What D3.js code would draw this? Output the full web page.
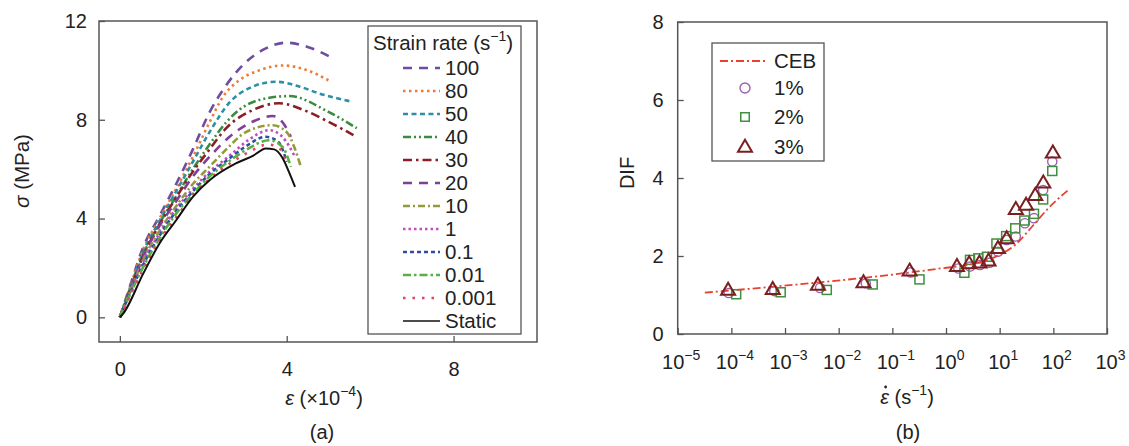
<!DOCTYPE html>
<html>
<head>
<meta charset="utf-8">
<script src="https://cdn.jsdelivr.net/npm/d3@7"></script>
<style>
	body{margin:0;background:#fff}
	svg text{font-family:"Liberation Sans",Arial,sans-serif;fill:#222}
</style>
</head>
<body>
<svg id="chart" width="1129" height="446"></svg>
<script>

// panel (a): stress-strain curves, [strain x1e-4, stress MPa]
const rateLabels = ['100','80','50','40','30','20','10','1','0.1','0.01','0.001','Static']
const sigma100 = [[0,0],[0.25,1.3],[0.55,2.8],[0.95,4.1],[1.35,5.4],[1.75,6.8],[2.15,8.3],[2.55,9.4],[3.0,10.3],[3.45,10.85],[4.0,11.12],[4.5,10.95],[5.1,10.5]]
const sigma80 = [[0,0],[0.25,1.25],[0.55,2.7],[0.95,4.0],[1.35,5.2],[1.75,6.5],[2.15,7.9],[2.46,8.9],[2.86,9.6],[3.34,10.0],[3.9,10.2],[4.5,10.0],[5.0,9.6]]
const sigma50 = [[0,0],[0.25,1.2],[0.55,2.6],[0.95,3.9],[1.35,5.1],[1.75,6.3],[2.15,7.5],[2.63,8.7],[3.1,9.28],[3.74,9.54],[4.3,9.35],[4.77,9.07],[5.57,8.73]]
const sigma40 = [[0,0],[0.25,1.15],[0.55,2.5],[0.95,3.8],[1.35,4.9],[1.75,6.0],[2.15,7.0],[2.55,7.9],[2.86,8.4],[3.34,8.8],[4.06,8.96],[5.0,8.32],[5.68,7.66]]
const sigma30 = [[0,0],[0.25,1.1],[0.55,2.45],[0.95,3.75],[1.35,4.85],[1.75,5.9],[2.15,6.8],[2.55,7.66],[3.18,8.39],[3.82,8.67],[4.4,8.4],[5.0,7.92],[5.6,7.38]]
const sigma20 = [[0,0],[0.25,1.1],[0.55,2.4],[0.95,3.7],[1.35,4.7],[1.75,5.7],[2.15,6.5],[2.63,7.31],[3.18,7.92],[3.66,8.15],[3.9,7.9],[4.1,7.31]]
const sigma10 = [[0,0],[0.25,1.05],[0.55,2.3],[0.95,3.5],[1.35,4.5],[1.75,5.4],[2.15,6.1],[2.55,6.8],[3.02,7.5],[3.66,7.78],[4.0,7.5],[4.18,6.9],[4.34,6.09]]
const sigma1 = [[0,0],[0.25,1.0],[0.55,2.2],[0.95,3.4],[1.35,4.4],[1.75,5.2],[2.15,5.9],[2.6,6.5],[3.1,7.2],[3.58,7.58],[3.9,7.3],[4.2,6.5]]
const sigma0_1 = [[0,0],[0.25,1.0],[0.55,2.1],[0.95,3.3],[1.35,4.3],[1.75,5.1],[2.15,5.8],[2.6,6.4],[3.0,6.9],[3.5,7.31],[3.8,7.1],[4.0,6.3]]
const sigma0_01 = [[0,0],[0.25,0.95],[0.55,2.0],[0.95,3.2],[1.35,4.2],[1.75,5.0],[2.15,5.7],[2.6,6.3],[3.0,6.75],[3.58,7.17],[3.9,6.9],[4.1,6.09]]
const sigma0_001 = [[0,0],[0.25,0.9],[0.55,1.9],[0.95,3.1],[1.35,4.05],[1.75,4.95],[2.15,5.6],[2.7,6.3],[3.1,6.7],[3.55,7.0],[3.85,6.8],[4.0,6.2]]
const sigmaStatic = [[0,0],[0.08,0.15],[0.56,1.77],[0.95,2.99],[1.35,3.93],[1.75,4.88],[2.15,5.55],[2.78,6.23],[3.2,6.55],[3.5,6.84],[3.7,6.8],[3.9,6.45],[4.05,5.9],[4.2,5.28]]
const rateCurves = [sigma100,sigma80,sigma50,sigma40,sigma30,sigma20,sigma10,sigma1,sigma0_1,sigma0_01,sigma0_001,sigmaStatic]
const strainTicks = [0,4,8]
const stressTicks = [0,4,8,12]

// panel (b): DIF vs strain rate, [rate s^-1, DIF]
const cebLine = [[3.2e-5,1.06],[0.78,1.68],[3.2,1.8],[10,2.03],[20,2.3],[40,2.75],[80,3.22],[200,3.72]]
const dif1 = [[8.9e-5,1.05],[6.3e-4,1.1],[4.5e-3,1.18],[0.032,1.3],[0.22,1.58],[1.7,1.68],[2.8,1.73],[4.3,1.77],[6.5,1.83],[9.3,2.11],[13.5,2.41],[20,2.5],[29.5,2.84],[43.6,2.97],[64.6,3.69],[95.5,4.42]]
const dif2 = [[1.23e-4,1.02],[8.3e-4,1.07],[6.0e-3,1.13],[0.043,1.27],[0.32,1.4],[2.2,1.57],[2.8,1.9],[4.0,1.94],[5.8,1.98],[8.7,2.32],[13.2,2.51],[19.5,2.71],[28.8,2.91],[43.6,3.08],[64.6,3.45],[95.5,4.18]]
const dif3 = [[8.7e-5,1.13],[5.9e-4,1.15],[4.1e-3,1.26],[0.029,1.32],[0.21,1.62],[1.6,1.74],[2.7,1.81],[4.2,1.83],[6.2,1.88],[9.3,2.2],[13.5,2.45],[20,3.2],[31,3.31],[46,3.56],[65,3.88],[98,4.65]]
const rateTicks = [-5,-4,-3,-2,-1,0,1,2,3]
const difTicks = [0,2,4,6,8]
const difLegend = ['CEB','1%','2%','3%']

const rateColours = ['#6e4ca0','#f07b35','#2e8ea8','#3a8a41','#8c1d24','#7e3f97','#949a3c','#c04fc4','#2c4fa4','#56b046','#e4405f','#111']
const rateDashes = ['9,7','2.5,3.5','5,3.5','8,3,2,3,2,3','9,4,2.5,4','9,7','7,3,2,3','2.5,3','4,3','8,3,2.5,3','2.5,7','none']

const svg = d3.select('#chart')

function frame(x0,y0,x1,y1){
	svg.append('rect')
		.attr('x',x0).attr('y',y0)
		.attr('width',x1-x0).attr('height',y1-y0)
		.attr('fill','none').attr('stroke','#555').attr('stroke-width',1.5)
}

function styleAxis(g){
	g.select('.domain').remove()
	g.selectAll('.tick line').attr('stroke','#555').attr('stroke-width',1.3)
	g.selectAll('.tick text').attr('font-size',20).attr('fill','#222')
		.attr('font-family','"Liberation Sans",Arial,sans-serif')
}

function sup(text,base,exp,back){
	text.append('tspan').text(base)
	text.append('tspan').attr('font-size',14).attr('dy',-9).text(exp)
	if(back){
		text.append('tspan').attr('dy',9).text(back)
	}
}

function drawPanelA(){
	let x = d3.scaleLinear().domain([-0.5,10]).range([99,537])
	let y = d3.scaleLinear().domain([-1,12]).range([342,21])

	let line = d3.line()
		.x(function(d){return x(d[0])})
		.y(function(d){return y(d[1])})
		.curve(d3.curveMonotoneX)

	rateCurves.forEach(function(c,i){
		svg.append('path')
			.attr('d',line(c))
			.attr('fill','none')
			.attr('stroke',rateColours[i])
			.attr('stroke-width',i==11?2:2.6)
			.attr('stroke-dasharray',rateDashes[i])
	})

	frame(99,21,537,342)

	svg.append('g').attr('transform','translate(99,0)')
		.call(d3.axisLeft(y).tickValues(stressTicks).tickSize(-6).tickPadding(12))
		.call(styleAxis)
	svg.append('g').attr('transform','translate(0,342)')
		.call(d3.axisBottom(x).tickValues(strainTicks).tickSize(-6).tickPadding(20))
		.call(styleAxis)

	// legend
	svg.append('rect').attr('x',368).attr('y',26).attr('width',153).attr('height',308)
		.attr('fill','#fff').attr('stroke','#555').attr('stroke-width',1.3)
	let title = svg.append('text').attr('x',373).attr('y',50).attr('font-size',20.5)
	sup(title,'Strain rate (s','\u22121',')')

	rateLabels.forEach(function(label,i){
		let ly = 68+i*23
		svg.append('line')
			.attr('x1',403).attr('x2',440).attr('y1',ly).attr('y2',ly)
			.attr('stroke',rateColours[i])
			.attr('stroke-width',i==11?1.5:2.6)
			.attr('stroke-dasharray',rateDashes[i])
		svg.append('text').attr('x',445).attr('y',ly+7).attr('font-size',20.5).text(label)
	})

	let ylab = svg.append('text').attr('font-size',20.5)
		.attr('text-anchor','middle')
		.attr('transform','translate(29,171) rotate(-90)')
	ylab.append('tspan').attr('font-style','italic').text('\u03c3')
	ylab.append('tspan').text(' (MPa)')

	let xlab = svg.append('text').attr('font-size',20).attr('text-anchor','middle')
		.attr('x',324).attr('y',405)
	xlab.append('tspan').attr('font-style','italic').text('\u03b5')
	sup(xlab,' (\u00d710','\u22124',')')

	svg.append('text').attr('x',322).attr('y',439).attr('font-size',20)
		.attr('text-anchor','middle').text('(a)')
}

function marker(g,type,cx,cy,big){
	if(type=='circle'){
		g.append('circle').attr('cx',cx).attr('cy',cy).attr('r',big?5:4.6)
			.attr('fill','none').attr('stroke','#9b5fb5').attr('stroke-width',1.4)
	} else if(type=='square'){
		let s = big?8.5:9
		g.append('rect').attr('x',cx-s/2).attr('y',cy-s/2).attr('width',s).attr('height',s)
			.attr('fill','none').attr('stroke','#3f8f3f').attr('stroke-width',1.5)
	} else {
		let w = 14, h = 12
		g.append('path')
			.attr('d','M'+cx+','+(cy-h*0.6)+'L'+(cx+w/2)+','+(cy+h*0.4)+'L'+(cx-w/2)+','+(cy+h*0.4)+'Z')
			.attr('fill','none').attr('stroke','#7a1f1f').attr('stroke-width',2)
	}
}

function drawPanelB(){
	let x = d3.scaleLog().domain([1e-5,1e3]).range([677.7,1107])
	let y = d3.scaleLinear().domain([0,8]).range([334,22])

	let line = d3.line()
		.x(function(d){return x(d[0])})
		.y(function(d){return y(d[1])})
		.curve(d3.curveMonotoneX)

	let pts = svg.append('g')
	dif1.forEach(function(d){marker(pts,'circle',x(d[0]),y(d[1]))})
	dif2.forEach(function(d){marker(pts,'square',x(d[0]),y(d[1]))})

	svg.append('path').attr('d',line(cebLine))
		.attr('fill','none').attr('stroke','#e8412f').attr('stroke-width',1.8)
		.attr('stroke-dasharray','8,3,2,3')

	let tri = svg.append('g')
	dif3.forEach(function(d){marker(tri,'triangle',x(d[0]),y(d[1]))})

	frame(677.7,22,1107,334)

	svg.append('g').attr('transform','translate(677.7,0)')
		.call(d3.axisLeft(y).tickValues(difTicks).tickSize(-6).tickPadding(14))
		.call(styleAxis)

	let xAxis = svg.append('g').attr('transform','translate(0,334)')
		.call(d3.axisBottom(x).tickValues(rateTicks.map(function(p){return Math.pow(10,p)})).tickSize(-6).tickFormat(''))
		.call(styleAxis)
	xAxis.selectAll('.tick').each(function(d,i){
		let t = d3.select(this).append('text').attr('y',35).attr('x',3)
			.attr('text-anchor','middle').attr('font-size',20).attr('fill','#222')
		sup(t,'10',rateTicks[i]<0?'\u2212'+(-rateTicks[i]):''+rateTicks[i])
	})

	// legend
	svg.append('rect').attr('x',712).attr('y',43).attr('width',112).attr('height',118)
		.attr('fill','#fff').attr('stroke','#555').attr('stroke-width',1.3)
	let ly = [61,88,117,147]
	svg.append('line').attr('x1',720).attr('x2',768).attr('y1',ly[0]).attr('y2',ly[0])
		.attr('stroke','#e8412f').attr('stroke-width',1.8).attr('stroke-dasharray','8,3,2,3')
	marker(svg,'circle',745,ly[1],true)
	marker(svg,'square',745,ly[2],true)
	marker(svg,'triangle',745,ly[3],true)
	difLegend.forEach(function(label,i){
		svg.append('text').attr('x',774).attr('y',ly[i]+7).attr('font-size',20.5).text(label)
	})

	svg.append('text').attr('font-size',20).attr('text-anchor','middle')
		.attr('transform','translate(634,173) rotate(-90)').text('DIF')

	let xlab = svg.append('text').attr('font-size',20).attr('text-anchor','middle')
		.attr('x',907).attr('y',404)
	xlab.append('tspan').attr('font-style','italic').text('\u03b5')
	sup(xlab,' (s','\u22121',')')
	let p = xlab.node().getStartPositionOfChar(0)
	let w = xlab.node().getSubStringLength(0,1)
	svg.append('circle').attr('cx',p.x+w*0.62).attr('cy',p.y-17).attr('r',1.4).attr('fill','#222')

	svg.append('text').attr('x',908).attr('y',439).attr('font-size',20)
		.attr('text-anchor','middle').text('(b)')
}

drawPanelA()
drawPanelB()

</script>
</body>
</html>
